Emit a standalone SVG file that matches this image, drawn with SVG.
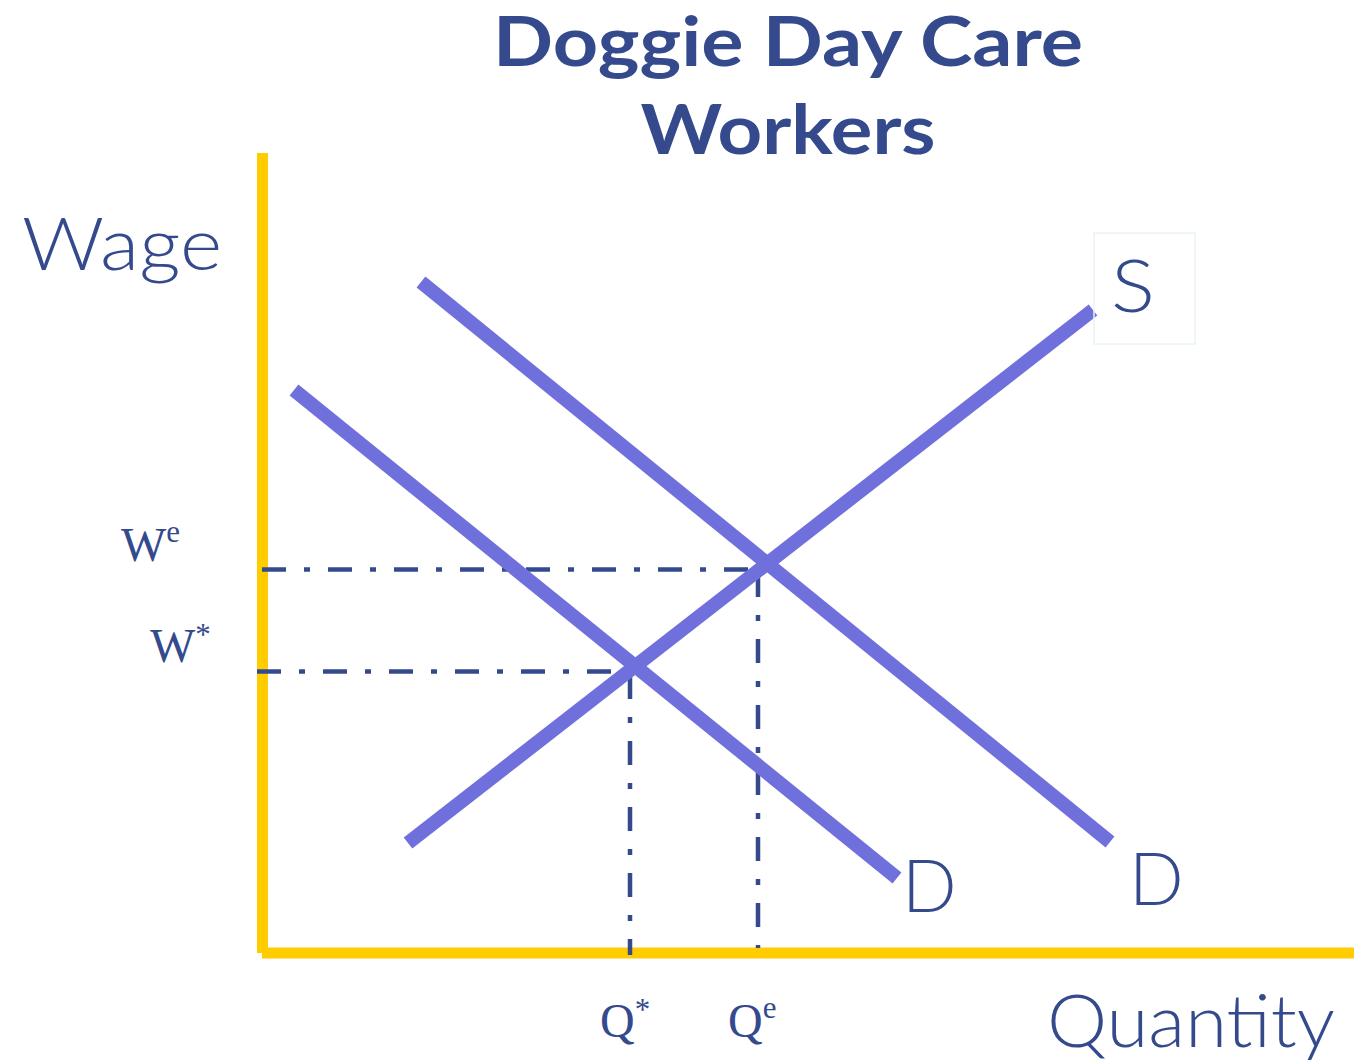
<svg xmlns="http://www.w3.org/2000/svg" width="1366" height="1064" viewBox="0 0 1366 1064">
<style>
.title{font-family:"Lato","Open Sans",sans-serif;font-weight:700;font-size:68px;fill:#344A8C;text-anchor:middle}
.lbl{font-family:"Lato","Open Sans",sans-serif;font-weight:300;font-size:72px;fill:#344A8C}
.ser{font-family:"Liberation Serif","Times New Roman",serif;font-size:48px;fill:#344A8C}
.sup{font-size:31px}
.axis{stroke:#FFCC00;stroke-width:11;fill:none}
.curve{stroke:#7070DD;stroke-width:14;fill:none}
.guide{stroke:#344A8C;stroke-width:4.5;fill:none;stroke-dasharray:24 18 6 18}
</style>
<rect width="1366" height="1064" fill="#FFFFFF"/>
<g id="title">
<text class="title" x="788" y="66" textLength="590" lengthAdjust="spacingAndGlyphs">Doggie Day Care</text>
<text class="title" x="788" y="154" textLength="295" lengthAdjust="spacingAndGlyphs">Workers</text>
</g>
<g id="axes">
<line class="axis" x1="262.5" y1="153" x2="262.5" y2="953"/>
<line class="axis" x1="262" y1="953" x2="1354" y2="953"/>
</g>
<g id="connectors">
<line class="guide" x1="262" y1="569.5" x2="758" y2="569.5"/>
<line class="guide" x1="758" y1="573" x2="758" y2="948"/>
<line class="guide" x1="257" y1="671.5" x2="630" y2="671.5"/>
<line class="guide" x1="630" y1="675" x2="630" y2="955"/>
</g>
<g id="curve-D1"><line class="curve" x1="294" y1="390" x2="897" y2="878"/></g>
<g id="curve-D2"><line class="curve" x1="421" y1="282" x2="1110" y2="842"/></g>
<g id="curve-S"><line class="curve" x1="408" y1="843" x2="1093" y2="310"/></g>
<g id="label-wage"><text class="lbl" x="22" y="270" textLength="200" lengthAdjust="spacingAndGlyphs">Wage</text></g>
<g id="label-quantity"><text class="lbl" x="1047" y="1047" textLength="288" lengthAdjust="spacingAndGlyphs">Quantity</text></g>
<g id="label-S">
<rect x="1094" y="233" width="101" height="111" fill="none" stroke="#EAF4F4" stroke-width="1.5"/>
<text class="lbl" x="1111" y="312" textLength="44" lengthAdjust="spacingAndGlyphs">S</text>
</g>
<g id="label-D1"><text class="lbl" x="902" y="912">D</text></g>
<g id="label-D2"><text class="lbl" x="1129" y="905">D</text></g>
<g id="label-We"><text class="ser" x="121" y="561">W<tspan class="sup" dy="-19">e</tspan></text></g>
<g id="label-Wstar"><text class="ser" x="150" y="662">W<tspan class="sup" dy="-17">*</tspan></text></g>
<g id="label-Qstar"><text class="ser" x="600" y="1037">Q<tspan class="sup" dy="-17">*</tspan></text></g>
<g id="label-Qe"><text class="ser" x="728" y="1037">Q<tspan class="sup" dy="-19">e</tspan></text></g>
</svg>
